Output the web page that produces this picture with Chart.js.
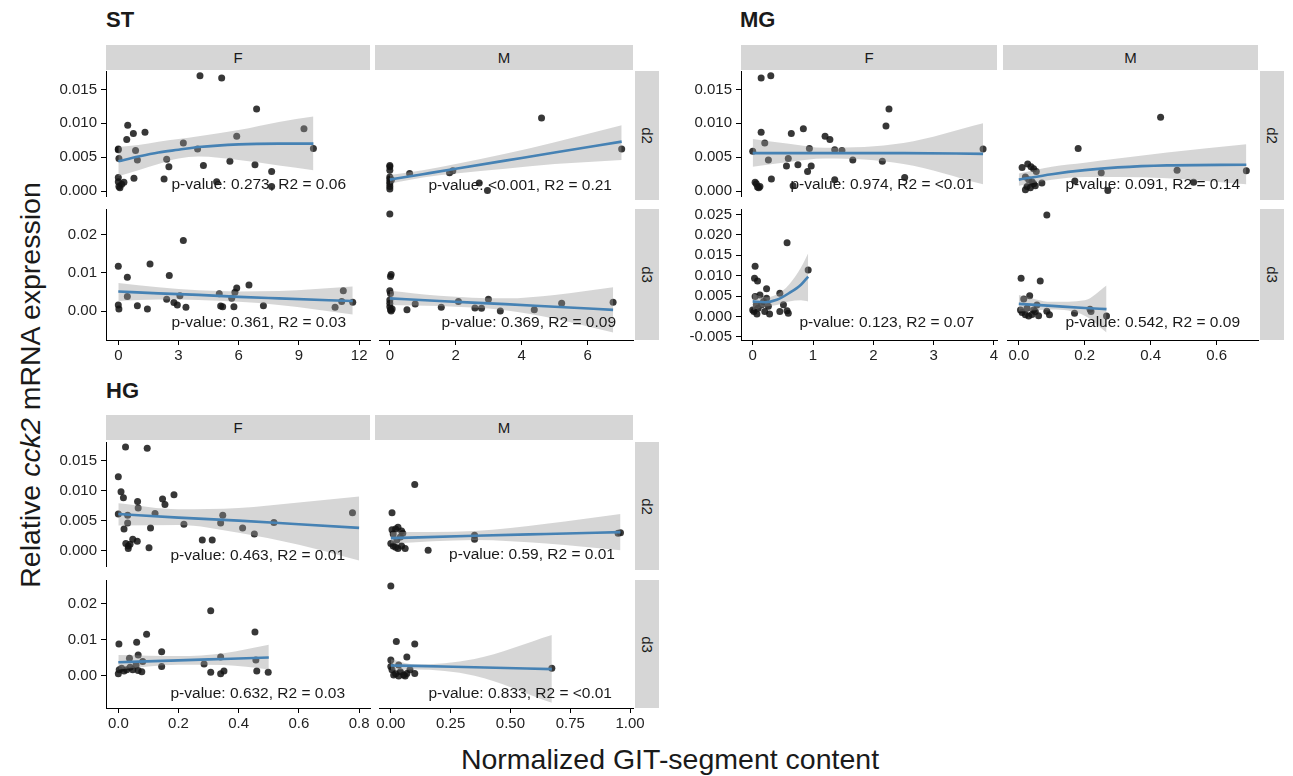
<!DOCTYPE html>
<html>
<head>
<meta charset="utf-8">
<script src="https://cdn.jsdelivr.net/npm/chart.js@4.4.1/dist/chart.umd.min.js"></script>
<style>
  body { margin: 0; width: 1293px; height: 776px; background: #fff; position: relative; overflow: hidden;
         font-family: "Liberation Sans", Arial, Helvetica, sans-serif; color: #1a1a1a; }
  canvas { position: absolute; }
  .t { position: absolute; white-space: nowrap; }
  .strip { position: absolute; background: #d6d6d6; display: flex; align-items: center; justify-content: center; font-size: 15px; }
  .strip.v span { display: block; transform: rotate(90deg); }
  .note { position: absolute; font-size: 15.5px; white-space: nowrap; transform: translateY(-50%); color: #1a1a1a; }
</style>
</head>
<body>
<div class="t" style="left:106px;top:20px;font-size:22px;font-weight:bold;transform:translateY(-50%)">ST</div>
<div class="t" style="left:740px;top:20px;font-size:22px;font-weight:bold;transform:translateY(-50%)">MG</div>
<div class="t" style="left:106px;top:391px;font-size:22px;font-weight:bold;transform:translateY(-50%)">HG</div>
<div class="t" style="left:30px;top:385px;font-size:28.5px;transform:translate(-50%,-50%) rotate(-90deg)">Relative <i>cck2</i> mRNA expression</div>
<div class="t" style="left:670px;top:759px;font-size:28.5px;transform:translate(-50%,-50%)">Normalized GIT-segment content</div>

<script>
// ---- data ----
// ST
const ST_F_d2_x = [0,0,0.03,0,0,0.03,0.08,0.17,0.28,0.47,0.42,0.75,1.33,0.86,0.95,0.78,2.28,2.41,2.52,3.24,3.95,4.07,4.24,4.90,5.15,5.56,5.90,6.81,6.89,7.64,7.64,9.25,9.72];
const ST_F_d2_y = [0.0061,0.0062,0.0048,0.0020,0.0014,0.0007,0.0005,0.0010,0.0013,0.0097,0.0076,0.0085,0.0087,0.0060,0.0046,0.0019,0.0018,0.0047,0.0036,0.0071,0.0062,0.0170,0.0038,0.0014,0.0167,0.0044,0.0081,0.0039,0.0121,0.0029,0.0007,0.0092,0.0063];
const ST_F_d2_sx = [0,1,2,3,4,6,8,9.72];
const ST_F_d2_fit = [0.0044,0.0051,0.0057,0.0061,0.0065,0.0069,0.0070,0.0070];
const ST_F_d2_lo = [0.0022,0.0031,0.0040,0.0048,0.0051,0.0046,0.0038,0.0031];
const ST_F_d2_hi = [0.0065,0.0068,0.0073,0.0077,0.0081,0.0090,0.0102,0.0110];

const ST_M_d2_x = [0,0,0,0,0,0,0,0,0,0.05,0.6,1.81,1.91,2.71,2.96,4.6,7.03];
const ST_M_d2_y = [0.0038,0.0036,0.0031,0.0021,0.0018,0.0014,0.0011,0.0007,0.0003,0.0017,0.0026,0.0027,0.0030,0.0012,0.0001,0.0108,0.0062];
const ST_M_d2_sx = [0,1,2,3.5,5,7.03];
const ST_M_d2_fit = [0.0017,0.0025,0.0033,0.0045,0.0057,0.0073];
const ST_M_d2_lo = [0.0011,0.0020,0.0026,0.0033,0.0040,0.0046];
const ST_M_d2_hi = [0.0024,0.0031,0.0040,0.0055,0.0072,0.0097];

const ST_F_d3_x = [0,0,0.03,0.45,0.45,0.95,1.45,1.58,2.41,2.54,2.77,2.94,3.07,3.24,3.37,5.03,5.10,5.20,5.65,5.76,5.81,5.90,6.51,7.23,10.8,11.13,11.21,11.68];
const ST_F_d3_y = [0.0117,0.0016,0.0005,0.0088,0.0038,0.0014,0.0005,0.0123,0.0031,0.0093,0.0022,0.0016,0.0040,0.0184,0.0010,0.0045,0.0013,0.0011,0.0033,0.0011,0.0049,0.0060,0.0068,0.0014,0.0010,0.0025,0.0053,0.0023];
const ST_F_d3_sx = [0,2,4,6,8,11.68];
const ST_F_d3_fit = [0.0051,0.0046,0.0042,0.0037,0.0033,0.0026];
const ST_F_d3_lo = [0.0026,0.0030,0.0029,0.0024,0.0016,-0.0009];
const ST_F_d3_hi = [0.0073,0.0062,0.0054,0.0051,0.0052,0.0064];

const ST_M_d3_x = [0,0.04,0.02,0,0.02,0,0,0,0.02,0.04,0.07,0.52,0.77,1.56,2.08,2.58,2.78,2.99,3.35,4.38,5.21,6.77];
const ST_M_d3_y = [0.0253,0.0095,0.0090,0.0053,0.0046,0.0029,0.0020,0.0011,0.0003,0.0000,0.0005,0.0003,0.0018,0.0010,0.0025,0.0008,0.0007,0.0031,0.0000,0.0003,0.0020,0.0023];
const ST_M_d3_sx = [0,1.5,3.5,5,6.77];
const ST_M_d3_fit = [0.0033,0.0026,0.0018,0.0011,0.0003];
const ST_M_d3_lo = [0.0016,0.0013,0.0002,-0.0020,-0.0056];
const ST_M_d3_hi = [0.0053,0.0040,0.0033,0.0042,0.0062];

// MG
const MG_F_d2_x = [0,0.04,0.06,0.08,0.12,0.10,0.14,0.14,0.20,0.26,0.30,0.31,0.56,0.59,0.64,0.67,0.75,0.84,0.91,0.94,0.97,1.20,1.28,1.36,1.36,1.48,1.66,2.15,2.21,2.26,2.52,3.82];
const MG_F_d2_y = [0.0059,0.0013,0.0011,0.0006,0.0007,0.0005,0.0167,0.0087,0.0071,0.0046,0.0170,0.0018,0.0037,0.0048,0.0085,0.0008,0.0039,0.0092,0.0029,0.0063,0.0037,0.0081,0.0076,0.0061,0.0017,0.0060,0.0046,0.0044,0.0096,0.0121,0.0020,0.0062];
const MG_F_d2_sx = [0,0.6,1.2,2.5,3.82];
const MG_F_d2_fit = [0.0056,0.0056,0.0056,0.0056,0.0055];
const MG_F_d2_lo = [0.0036,0.0043,0.0048,0.0040,0.0010];
const MG_F_d2_hi = [0.0077,0.0070,0.0064,0.0071,0.0100];

const MG_M_d2_x = [0.01,0.027,0.037,0.045,0.053,0.02,0.03,0.04,0.045,0.025,0.035,0.02,0.05,0.07,0.17,0.18,0.25,0.27,0.43,0.48,0.53,0.69];
const MG_M_d2_y = [0.0035,0.0040,0.0036,0.0033,0.0029,0.0021,0.0017,0.0014,0.0011,0.0007,0.0005,0.0002,0.0008,0.0012,0.0015,0.0063,0.0027,0.0001,0.0109,0.0031,0.0013,0.0030];
const MG_M_d2_sx = [0,0.1,0.2,0.3,0.45,0.69];
const MG_M_d2_fit = [0.0017,0.0025,0.0031,0.0035,0.0038,0.0039];
const MG_M_d2_lo = [0.0008,0.0017,0.0021,0.0021,0.0019,0.0010];
const MG_M_d2_hi = [0.0026,0.0036,0.0042,0.0048,0.0057,0.0069];

const MG_F_d3_x = [0.04,0.03,0.08,0,0.02,0.07,0.04,0.12,0.18,0.23,0.15,0.26,0.06,0.09,0.20,0.28,0.23,0.45,0.45,0.51,0.57,0.57,0.59,0.92];
const MG_F_d3_y = [0.0123,0.0094,0.0087,0.0016,0.0012,0.0006,0.0049,0.0053,0.0037,0.0045,0.0029,0.0025,0.0029,0.0020,0.0012,0.0006,0.0068,0.0057,0.0012,0.0029,0.0181,0.0014,0.0008,0.0114];
const MG_F_d3_sx = [0,0.2,0.4,0.6,0.8,0.92];
const MG_F_d3_fit = [0.0037,0.0035,0.0041,0.0057,0.0078,0.0098];
const MG_F_d3_lo = [0.0016,0.0024,0.0028,0.0037,0.0040,0.0037];
const MG_F_d3_hi = [0.0057,0.0047,0.0054,0.0078,0.0120,0.0155];

const MG_M_d3_x = [0.085,0.007,0.065,0.033,0.015,0.055,0.085,0.005,0.01,0.02,0.03,0.04,0.05,0.06,0.025,0.045,0.093,0.169,0.216,0.219,0.266];
const MG_M_d3_y = [0.0249,0.0094,0.0087,0.0051,0.0043,0.0028,0.0013,0.0016,0.0010,0.0004,0.0001,0.0005,0.0012,0.0002,0.0020,0.0016,0.0004,0.0008,0.0018,0.0012,0.0001];
const MG_M_d3_sx = [0,0.1,0.2,0.266];
const MG_M_d3_fit = [0.0031,0.0026,0.0021,0.0018];
const MG_M_d3_lo = [0.0012,0.0017,0.0002,-0.0039];
const MG_M_d3_hi = [0.0053,0.0036,0.0040,0.0076];

// HG
const HG_F_d2_x = [0,0,0.009,0.017,0.019,0.024,0.025,0.031,0.031,0.033,0.033,0.039,0.048,0.063,0.064,0.066,0.096,0.102,0.107,0.122,0.147,0.155,0.185,0.218,0.279,0.312,0.340,0.347,0.413,0.452,0.517,0.778];
const HG_F_d2_y = [0.0061,0.0123,0.0098,0.0088,0.0036,0.0172,0.0012,0.0046,0.0059,0.0008,0.0004,0.0011,0.0019,0.0016,0.0082,0.0071,0.0170,0.0005,0.0038,0.0062,0.0086,0.0077,0.0093,0.0044,0.0018,0.0018,0.0046,0.0059,0.0038,0.0028,0.0047,0.0063];
const HG_F_d2_sx = [0,0.2,0.4,0.6,0.8];
const HG_F_d2_fit = [0.0061,0.0055,0.0050,0.0044,0.0038];
const HG_F_d2_lo = [0.0042,0.0043,0.0030,0.0010,-0.0016];
const HG_F_d2_hi = [0.0079,0.0069,0.0071,0.0080,0.0090];

const HG_M_d2_x = [0.10,0.005,0.005,0.02,0.03,0.045,0.05,0.01,0,0.01,0.02,0.03,0.045,0.06,0.025,0.04,0.156,0.35,0.35,0.95,0.96];
const HG_M_d2_y = [0.0110,0.0063,0.0035,0.0036,0.0039,0.0033,0.0029,0.0028,0.0012,0.0008,0.0006,0.0004,0.0008,0.0004,0.0018,0.0023,0.0001,0.0026,0.0019,0.0029,0.0030];
const HG_M_d2_sx = [0,0.35,0.65,0.96];
const HG_M_d2_fit = [0.0021,0.0025,0.0028,0.0031];
const HG_M_d2_lo = [0.0012,0.0018,0.0012,0.0001];
const HG_M_d2_hi = [0.0031,0.0033,0.0045,0.0061];

const HG_F_d3_x = [0.002,0,0.003,0.011,0.019,0.037,0.039,0.028,0.048,0.059,0.061,0.066,0.066,0.078,0.081,0.094,0.144,0.144,0.285,0.307,0.307,0.340,0.340,0.351,0.454,0.457,0.460,0.498];
const HG_F_d3_y = [0.0088,0.0006,0.0017,0.0021,0.0014,0.0049,0.0024,0.0017,0.0017,0.0030,0.0093,0.0058,0.0015,0.0012,0.0040,0.0115,0.0067,0.0026,0.0033,0.0180,0.0010,0.0052,0.0006,0.0014,0.0121,0.0044,0.0014,0.0010];
const HG_F_d3_sx = [0,0.2,0.35,0.5];
const HG_F_d3_fit = [0.0038,0.0043,0.0047,0.0051];
const HG_F_d3_lo = [0.0018,0.0031,0.0030,0.0018];
const HG_F_d3_hi = [0.0058,0.0055,0.0063,0.0086];

const HG_M_d3_x = [0,0.023,0.10,0.067,0,0.033,0,0.005,0.02,0.04,0.054,0.067,0.08,0.10,0.012,0.033,0.06,0.673];
const HG_M_d3_y = [0.0248,0.0095,0.0088,0.0052,0.0044,0.0030,0.0026,0.0017,0.0006,0.0012,0.0003,0.0007,0.0017,0.0007,0.0003,0.0000,0.0000,0.0021];
const HG_M_d3_sx = [0,0.1,0.35,0.673];
const HG_M_d3_fit = [0.0029,0.0028,0.0024,0.0019];
const HG_M_d3_lo = [0.0017,0.0018,0.0001,-0.0074];
const HG_M_d3_hi = [0.0046,0.0032,0.0047,0.0113];

// tick values and labels
const d2Ticks = [0,0.005,0.010,0.015], d2Labels = ['0.000','0.005','0.010','0.015'];
const d3Ticks = [0,0.01,0.02], d3Labels = ['0.00','0.01','0.02'];
const mgD3Ticks = [-0.005,0,0.005,0.010,0.015,0.020,0.025];
const mgD3Labels = ['-0.005','0.000','0.005','0.010','0.015','0.020','0.025'];
const stFTicks = [0,3,6,9,12], stFLabels = ['0','3','6','9','12'];
const stMTicks = [0,2,4,6], stMLabels = ['0','2','4','6'];
const mgFTicks = [0,1,2,3,4], mgFLabels = ['0','1','2','3','4'];
const mgMTicks = [0,0.2,0.4,0.6], mgMLabels = ['0.0','0.2','0.4','0.6'];
const hgFTicks = [0,0.2,0.4,0.6,0.8], hgFLabels = ['0.0','0.2','0.4','0.6','0.8'];
const hgMTicks = [0,0.25,0.5,0.75,1], hgMLabels = ['0.00','0.25','0.50','0.75','1.00'];

const notes = {
  ST_F_d2: 'p-value: 0.273, R2 = 0.06', ST_M_d2: 'p-value: <0.001, R2 = 0.21',
  ST_F_d3: 'p-value: 0.361, R2 = 0.03', ST_M_d3: 'p-value: 0.369, R2 = 0.09',
  MG_F_d2: 'p-value: 0.974, R2 = <0.01', MG_M_d2: 'p-value: 0.091, R2 = 0.14',
  MG_F_d3: 'p-value: 0.123, R2 = 0.07', MG_M_d3: 'p-value: 0.542, R2 = 0.09',
  HG_F_d2: 'p-value: 0.463, R2 = 0.01', HG_M_d2: 'p-value: 0.59, R2 = 0.01',
  HG_F_d3: 'p-value: 0.632, R2 = 0.03', HG_M_d3: 'p-value: 0.833, R2 = <0.01'
};

// ---- layout: panel box [left, top, right, bottom], axis ranges ----
const D = {
  ST_F_d2: [ST_F_d2_x, ST_F_d2_y, ST_F_d2_sx, ST_F_d2_fit, ST_F_d2_lo, ST_F_d2_hi],
  ST_M_d2: [ST_M_d2_x, ST_M_d2_y, ST_M_d2_sx, ST_M_d2_fit, ST_M_d2_lo, ST_M_d2_hi],
  ST_F_d3: [ST_F_d3_x, ST_F_d3_y, ST_F_d3_sx, ST_F_d3_fit, ST_F_d3_lo, ST_F_d3_hi],
  ST_M_d3: [ST_M_d3_x, ST_M_d3_y, ST_M_d3_sx, ST_M_d3_fit, ST_M_d3_lo, ST_M_d3_hi],
  MG_F_d2: [MG_F_d2_x, MG_F_d2_y, MG_F_d2_sx, MG_F_d2_fit, MG_F_d2_lo, MG_F_d2_hi],
  MG_M_d2: [MG_M_d2_x, MG_M_d2_y, MG_M_d2_sx, MG_M_d2_fit, MG_M_d2_lo, MG_M_d2_hi],
  MG_F_d3: [MG_F_d3_x, MG_F_d3_y, MG_F_d3_sx, MG_F_d3_fit, MG_F_d3_lo, MG_F_d3_hi],
  MG_M_d3: [MG_M_d3_x, MG_M_d3_y, MG_M_d3_sx, MG_M_d3_fit, MG_M_d3_lo, MG_M_d3_hi],
  HG_F_d2: [HG_F_d2_x, HG_F_d2_y, HG_F_d2_sx, HG_F_d2_fit, HG_F_d2_lo, HG_F_d2_hi],
  HG_M_d2: [HG_M_d2_x, HG_M_d2_y, HG_M_d2_sx, HG_M_d2_fit, HG_M_d2_lo, HG_M_d2_hi],
  HG_F_d3: [HG_F_d3_x, HG_F_d3_y, HG_F_d3_sx, HG_F_d3_fit, HG_F_d3_lo, HG_F_d3_hi],
  HG_M_d3: [HG_M_d3_x, HG_M_d3_y, HG_M_d3_sx, HG_M_d3_fit, HG_M_d3_lo, HG_M_d3_hi]
};

const panels = [
  { id: 'ST_F_d2', box: [106, 71, 370, 200], xr: [-0.613, 12.54], yr: [-0.000714, 0.017714], xt: stFTicks, xl: stFLabels, yt: d2Ticks, yl: d2Labels, yAx: true, xAx: false, note: [346, 184] },
  { id: 'ST_M_d2', box: [375, 71, 633, 200], xr: [-0.328, 7.373], yr: [-0.000714, 0.017714], xt: stMTicks, xl: stMLabels, yt: d2Ticks, yl: d2Labels, yAx: false, xAx: false, note: [612, 185] },
  { id: 'ST_F_d3', box: [106, 209, 370, 340], xr: [-0.613, 12.54], yr: [-0.00757, 0.02663], xt: stFTicks, xl: stFLabels, yt: d3Ticks, yl: d3Labels, yAx: true, xAx: true, note: [346, 322] },
  { id: 'ST_M_d3', box: [375, 209, 633, 340], xr: [-0.328, 7.373], yr: [-0.00757, 0.02663], xt: stMTicks, xl: stMLabels, yt: d3Ticks, yl: d3Labels, yAx: false, xAx: true, note: [616, 322] },
  { id: 'MG_F_d2', box: [741, 71, 997, 200], xr: [-0.194, 4.051], yr: [-0.000714, 0.017714], xt: mgFTicks, xl: mgFLabels, yt: d2Ticks, yl: d2Labels, yAx: true, xAx: false, note: [974, 184] },
  { id: 'MG_M_d2', box: [1003, 71, 1258, 200], xr: [-0.0358, 0.7254], yr: [-0.000714, 0.017714], xt: mgMTicks, xl: mgMLabels, yt: d2Ticks, yl: d2Labels, yAx: false, xAx: false, note: [1240, 184] },
  { id: 'MG_F_d3', box: [741, 209, 997, 340], xr: [-0.194, 4.051], yr: [-0.00576, 0.02635], xt: mgFTicks, xl: mgFLabels, yt: mgD3Ticks, yl: mgD3Labels, yAx: true, xAx: true, note: [974, 322] },
  { id: 'MG_M_d3', box: [1003, 209, 1258, 340], xr: [-0.0358, 0.7254], yr: [-0.00576, 0.02635], xt: mgMTicks, xl: mgMLabels, yt: mgD3Ticks, yl: mgD3Labels, yAx: false, xAx: true, note: [1240, 322] },
  { id: 'HG_F_d2', box: [106, 442, 370, 570], xr: [-0.0409, 0.8362], yr: [-0.00252, 0.01805], xt: hgFTicks, xl: hgFLabels, yt: d2Ticks, yl: d2Labels, yAx: true, xAx: false, note: [345, 555] },
  { id: 'HG_M_d2', box: [375, 442, 633, 570], xr: [-0.0494, 1.0123], yr: [-0.00252, 0.01805], xt: hgMTicks, xl: hgMLabels, yt: d2Ticks, yl: d2Labels, yAx: false, xAx: false, note: [615, 554] },
  { id: 'HG_F_d3', box: [106, 580, 370, 708], xr: [-0.0409, 0.8362], yr: [-0.00882, 0.02645], xt: hgFTicks, xl: hgFLabels, yt: d3Ticks, yl: d3Labels, yAx: true, xAx: true, note: [345, 693] },
  { id: 'HG_M_d3', box: [375, 580, 633, 708], xr: [-0.0494, 1.0123], yr: [-0.00882, 0.02645], xt: hgMTicks, xl: hgMLabels, yt: d3Ticks, yl: d3Labels, yAx: false, xAx: true, note: [612, 693] }
];

// strips
const topStrips = [
  [106, 45, 370, 70, 'F'], [375, 45, 633, 70, 'M'], [741, 45, 997, 70, 'F'], [1003, 45, 1258, 70, 'M'],
  [106, 415, 370, 440, 'F'], [375, 415, 633, 440, 'M']
];
const sideStrips = [
  [635, 71, 659, 200, 'd2'], [635, 209, 659, 340, 'd3'], [1260, 71, 1284, 200, 'd2'], [1260, 209, 1284, 340, 'd3'],
  [635, 442, 659, 570, 'd2'], [635, 580, 659, 708, 'd3']
];

function addDiv(cls, css, html) {
  const d = document.createElement('div');
  d.className = cls;
  d.style.cssText = css;
  d.innerHTML = html;
  document.body.appendChild(d);
}
topStrips.forEach(s => addDiv('strip', `left:${s[0]}px;top:${s[1]}px;width:${s[2]-s[0]}px;height:${s[3]-s[1]}px`, s[4]));
sideStrips.forEach(s => addDiv('strip v', `left:${s[0]}px;top:${s[1]}px;width:${s[2]-s[0]}px;height:${s[3]-s[1]}px`, '<span>' + s[4] + '</span>'));

const zip = (xs, ys) => xs.map((x, i) => ({ x: x, y: ys[i] }));
const tickFont = { family: '"Liberation Sans", Arial, Helvetica, sans-serif', size: 15 };

function makePanel(p) {
  const [L, T, R, B] = p.box;
  const [px, py, sx, fit, lo, hi] = D[p.id];
  const yw = p.yAx ? 62 : 0, xh = p.xAx ? 26 : 0, padT = 8, padR = 14;
  const cv = document.createElement('canvas');
  cv.width = yw + (R - L) + padR;
  cv.height = padT + (B - T) + xh;
  cv.style.left = (L - yw) + 'px';
  cv.style.top = (T - padT) + 'px';
  document.body.appendChild(cv);

  new Chart(cv, {
    type: 'scatter',
    data: {
      datasets: [
        { type: 'line', data: zip(sx, fit), borderColor: '#4682b4', borderWidth: 2.6, pointRadius: 0,
          cubicInterpolationMode: 'monotone', fill: false, order: 0 },
        { type: 'line', data: zip(sx, hi), borderColor: 'rgba(0,0,0,0)', borderWidth: 0, pointRadius: 0,
          cubicInterpolationMode: 'monotone', fill: '+1', backgroundColor: 'rgba(153,153,153,0.4)', order: 1 },
        { type: 'line', data: zip(sx, lo), borderColor: 'rgba(0,0,0,0)', borderWidth: 0, pointRadius: 0,
          cubicInterpolationMode: 'monotone', fill: false, order: 1 },
        { data: zip(px, py), backgroundColor: 'rgba(20,20,20,0.85)', borderWidth: 0, pointRadius: 3.5, order: 2 }
      ]
    },
    options: {
      responsive: false,
      animation: false,
      layout: { padding: { top: padT, right: padR, left: 0, bottom: 0 } },
      plugins: { legend: { display: false }, tooltip: { enabled: false } },
      scales: {
        x: {
          type: 'linear', bounds: 'data', min: p.xr[0], max: p.xr[1], display: p.xAx,
          afterBuildTicks: s => { s.ticks = p.xt.map(v => ({ value: v })); },
          afterFit: s => { s.height = xh; s.paddingLeft = 0; s.paddingRight = 0; },
          ticks: { autoSkip: false, maxRotation: 0, padding: 2, color: '#222', font: tickFont,
                   callback: (v, i) => p.xl[i] },
          grid: { drawOnChartArea: false, tickLength: 5, tickColor: '#000' },
          border: { display: true, color: '#000', width: 1 }
        },
        y: {
          type: 'linear', bounds: 'data', min: p.yr[0], max: p.yr[1], display: p.yAx,
          afterBuildTicks: s => { s.ticks = p.yt.map(v => ({ value: v })); },
          afterFit: s => { s.width = yw; s.paddingTop = 0; s.paddingBottom = 0; },
          ticks: { autoSkip: false, padding: 4, color: '#222', font: tickFont,
                   callback: (v, i) => p.yl[i] },
          grid: { drawOnChartArea: false, tickLength: 5, tickColor: '#000' },
          border: { display: true, color: '#000', width: 1 }
        }
      }
    }
  });

  addDiv('note', `right:${1293 - p.note[0]}px;top:${p.note[1]}px`, notes[p.id]);
}

panels.forEach(makePanel);
</script>
</body>
</html>
